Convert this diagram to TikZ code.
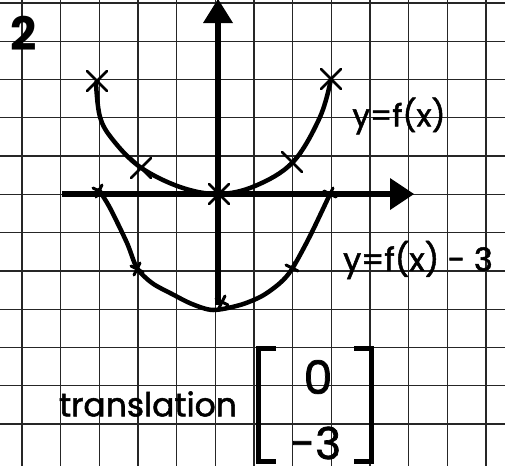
\documentclass[tikz,border=0pt]{standalone}
\usepackage{fontspec}
\setmainfont{Poppins}
\newfontfamily\hand[FakeBold=1.6]{Poppins}
\begin{document}
\begin{tikzpicture}[x=1pt,y=-1pt,
  gridline/.style={black!85,line width=1.3pt},
  axisline/.style={black,line width=6pt},
  curveline/.style={black,line width=4.5pt,line cap=round,line join=round},
  xmark/.style={black,line width=2.6pt,line cap=round},
  lbl/.style={inner sep=0pt,anchor=center}]
\useasboundingbox (0,0) rectangle (505,472);
\fill[white] (0,0) rectangle (505,472);
% grid
\foreach \k in {0,...,12} {
  \draw[gridline] ({22+38.67*\k},0) -- ({22+38.67*\k},466);
}
\foreach \k in {0,...,11} {
  \draw[gridline] (0,{3+38.27*\k}) -- (505,{3+38.27*\k});
}
% axes
\coordinate (ybot) at (218,305);
\coordinate (ytop) at (218,22);
\coordinate (xleft) at (62,194);
\coordinate (xright) at (392,194);
\draw[axisline] (ybot) -- (ytop);
\fill[black] (218,-1) -- (233,23) -- (203,23) -- cycle;
\draw[axisline] (xleft) -- (xright);
\fill[black] (414,194) -- (390,178) -- (390,210) -- cycle;
% upper curve y=f(x)
\draw[curveline] plot[smooth,tension=0.6] coordinates {(96,83) (100,117) (113,140) (140,167) (180,187) (218,194) (255,186) (293,162) (320,117) (331,79)};
% crosses on upper curve
\foreach \p in {(97,81),(141,168),(219,194),(292,162),(331,79)} {
  \draw[xmark] \p ++(-10,-10) -- ++(20,20);
  \draw[xmark] \p ++(-10,10) -- ++(20,-20);
}
% lower curve y=f(x)-3
\draw[curveline] plot[smooth,tension=0.5] coordinates {(99,190) (110,208) (127,243) (137,268) (152,283) (172,294) (192,304) (213,310) (240,305) (262,296) (280,283) (292,269) (310,236) (330,194)};
% small marks on lower curve
\foreach \p in {(99,191),(137,269),(222,302),(292,268),(330,194)} {
  \draw[black,line width=3pt,line cap=round] \p ++(-6,-3) -- ++(12,6);
  \draw[black,line width=3pt,line cap=round] \p ++(-3,6) -- ++(6,-12);
}
% labels
\node[lbl,font=\fontsize{46}{46}\selectfont\bfseries] (num) at (24,33) {2};
\node[lbl,font=\hand\fontsize{31}{31}\selectfont] (fx) at (399,116) {y=f(x)};
\node[lbl,font=\hand\fontsize{32}{32}\selectfont] (fx3) at (418,260) {y=f(x) - 3};
\node[lbl,font=\hand\fontsize{33}{33}\selectfont] (tr) at (148,404) {translation};
\node[lbl,font=\hand\fontsize{46}{46}\selectfont] (v0) at (318,377) {0};
\node[lbl,font=\hand\fontsize{44}{44}\selectfont] (v3) at (316,443) {-3};
% brackets
\draw[black,line width=5pt] (276,348) -- (258,348) -- (258,461) -- (276,461);
\draw[black,line width=5pt] (354,348) -- (371,348) -- (371,461) -- (354,461);
\end{tikzpicture}
\end{document}
